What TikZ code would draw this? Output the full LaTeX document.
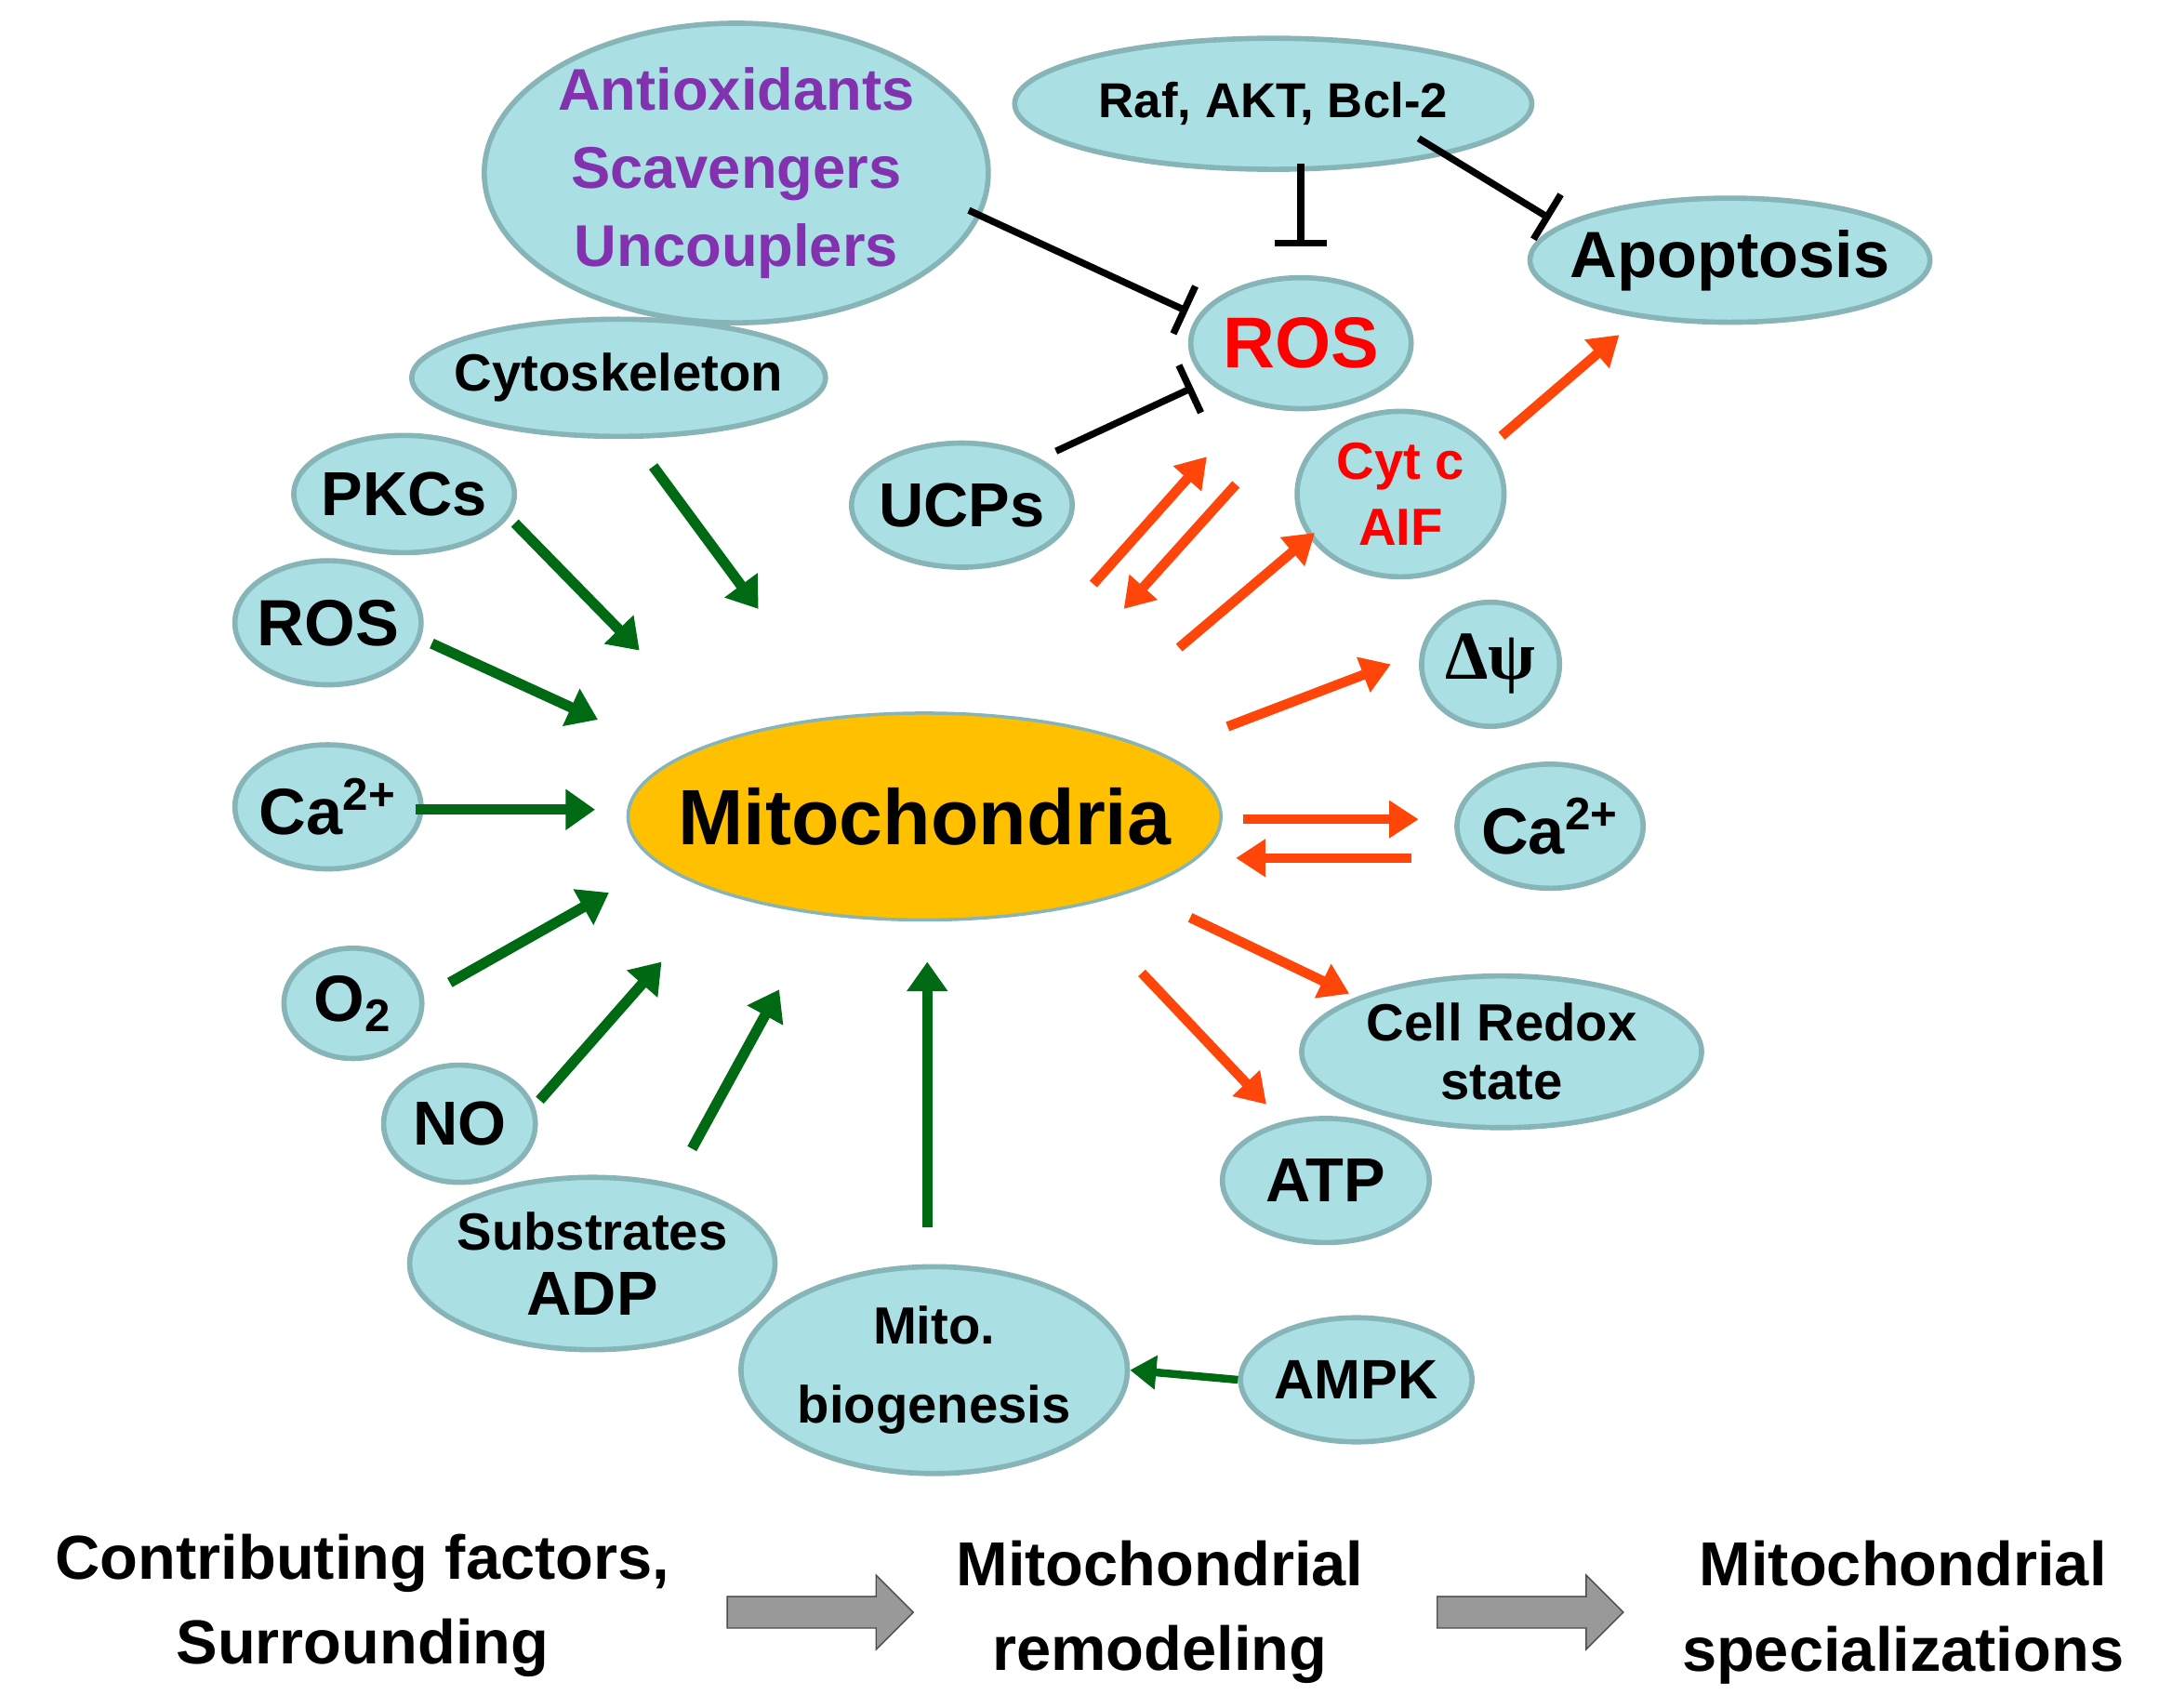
\documentclass[tikz,border=0pt]{standalone}
\usepackage{fontspec}
\setmainfont{Liberation Sans}
\newfontfamily\ser{Liberation Serif}
\usetikzlibrary{shapes.geometric,shapes.arrows,arrows.meta}
\definecolor{cy}{RGB}{170,224,228}
\definecolor{cyb}{RGB}{135,180,182}
\definecolor{org}{RGB}{255,192,0}
\definecolor{gr}{RGB}{0,105,20}
\definecolor{rd}{RGB}{255,70,10}
\definecolor{pu}{RGB}{130,50,175}
\tikzset{
 sz/.style 2 args={minimum width=#1*0.4218pt,minimum height=#2*0.4218pt},
 el/.style={ellipse,fill=cy,draw=cyb,line width=1.6pt,inner sep=0pt,align=center,font=\bfseries\fontsize{17}{18}\selectfont},
 ga/.style={draw=gr,line width=3.2pt,-{Triangle[length=9pt,width=12pt]}},
 ra/.style={draw=rd,line width=3pt,-{Triangle[length=9pt,width=11pt]}},
 inh/.style={draw=black,line width=2.1pt,-{Bar[width=16pt]}},
 blk/.style={single arrow,fill=gray!80,draw=gray!60!black,minimum height=2cm,minimum width=0.8cm,single arrow head extend=3pt,inner sep=2pt},
 bt/.style={align=center,font=\bfseries\fontsize{19}{26}\selectfont}
}
\begin{document}
\begin{tikzpicture}[x=0.01488cm,y=-0.01488cm]
\useasboundingbox (0,0) rectangle (1560,1234);
\node[el,sz={350}{210},text=pu,font=\bfseries\fontsize{18}{24}\selectfont] (anti) at (532,125) {Antioxidants\\Scavengers\\Uncouplers};
\node[el,sz={375}{95},font=\bfseries\fontsize{15}{16}\selectfont] (raf) at (920,75) {Raf, AKT, Bcl-2};
\node[el,sz={290}{90},inner xsep=-12pt,font=\bfseries\fontsize{20}{20}\selectfont] (apo) at (1250,188) {Apoptosis};
\node[el,sz={150}{95},text=red,font=\bfseries\fontsize{22}{22}\selectfont] (rost) at (940,248) {ROS};
\node[el,sz={300}{85},inner xsep=-12pt,font=\bfseries\fontsize{16}{16}\selectfont] (cyto) at (447,273) {Cytoskeleton};
\node[el,sz={160}{85},inner xsep=-6pt,font=\bfseries\fontsize{19}{19}\selectfont] (pkc) at (292,357) {PKCs};
\node[el,sz={160}{90},inner xsep=-6pt,font=\bfseries\fontsize{19}{19}\selectfont] (ucp) at (695,365) {UCPs};
\node[el,sz={150}{120},text=red,font=\bfseries\fontsize{16}{20}\selectfont] (cyt) at (1012,357) {Cyt c\\AIF};
\node[el,sz={135}{90},inner xsep=-4pt,font=\bfseries\fontsize{20}{20}\selectfont] (rosl) at (237,450) {ROS};
\node[el,sz={100}{90},font=\bfseries\ser\fontsize{21}{21}\selectfont] (dpsi) at (1077,480) {Δψ};
\node[el,sz={135}{90},inner xsep=-4pt,font=\bfseries\fontsize{20}{20}\selectfont] (cal) at (237,583) {Ca\textsuperscript{2+}};
\node[ellipse,fill=org,draw=cyb,line width=1pt,sz={430}{150},inner sep=0pt,inner xsep=-26pt,font=\bfseries\fontsize{24}{24}\selectfont] (mito) at (668,590) {Mitochondria};
\node[el,sz={135}{90},inner xsep=-4pt,font=\bfseries\fontsize{20}{20}\selectfont] (car) at (1120,597) {Ca\textsuperscript{2+}};
\node[el,sz={100}{80},font=\bfseries\fontsize{20}{20}\selectfont] (o2) at (255,725) {O$_\mathbf{2}$};
\node[el,sz={290}{110},inner xsep=-8pt,font=\bfseries\fontsize{16}{18}\selectfont] (redox) at (1085,760) {Cell Redox\\state};
\node[el,sz={110}{85},font=\bfseries\fontsize{19}{19}\selectfont] (no) at (332,812) {NO};
\node[el,sz={150}{90},font=\bfseries\fontsize{19}{19}\selectfont] (atp) at (958,853) {ATP};
\node[el,sz={265}{125},inner xsep=-8pt,font=\bfseries\fontsize{16}{20}\selectfont] (sub) at (428,913) {Substrates\\\fontsize{19}{20}\selectfont ADP};
\node[el,sz={275}{150},font=\bfseries\fontsize{16}{24}\selectfont] (bio) at (675,990) {Mito.\\biogenesis};
\node[el,sz={150}{90},font=\bfseries\fontsize{17}{17}\selectfont] (ampk) at (980,997) {AMPK};
% green
\draw[ga] (472,337) coordinate (g1a) -- (548,440) coordinate (g1b);
\draw[ga] (372,378) coordinate (g2a) -- (462,470) coordinate (g2b);
\draw[ga] (312,465) coordinate (g3a) -- (432,520) coordinate (g3b);
\draw[ga] (300,585) coordinate (g4a) -- (430,585) coordinate (g4b);
\draw[ga] (325,710) coordinate (g5a) -- (440,645) coordinate (g5b);
\draw[ga] (390,795) coordinate (g6a) -- (478,695) coordinate (g6b);
\draw[ga] (500,830) coordinate (g7a) -- (563,715) coordinate (g7b);
\draw[ga] (670,887) coordinate (g8a) -- (670,695) coordinate (g8b);
\draw[draw=gr,line width=2.4pt,-{Triangle[length=8pt,width=10pt]}] (ampk.west) -- (bio.east);
% red
\draw[ra] (790,422) coordinate (r1a) -- (872,330) coordinate (r1b);
\draw[ra] (893,350) coordinate (r2a) -- (812,440) coordinate (r2b);
\draw[ra] (852,468) coordinate (r3a) -- (950,385) coordinate (r3b);
\draw[ra] (1085,315) coordinate (r4a) -- (1170,242) coordinate (r4b);
\draw[ra] (887,525) coordinate (r5a) -- (1005,480) coordinate (r5b);
\draw[ra] (898,592) coordinate (r6a) -- (1025,592) coordinate (r6b);
\draw[ra] (1020,620) coordinate (r7a) -- (893,620) coordinate (r7b);
\draw[ra] (860,663) coordinate (r8a) -- (975,718) coordinate (r8b);
\draw[ra] (825,703) coordinate (r9a) -- (915,798) coordinate (r9b);
% inhibition
\draw[inh] (700,152) coordinate (i1a) -- (858,225) coordinate (i1b);
\draw[inh] (763,326) coordinate (i2a) -- (862,280) coordinate (i2b);
\draw[inh] (940,118) coordinate (i3a) -- (940,178) coordinate (i3b);
\draw[inh] (1025,100) coordinate (i4a) -- (1120,158) coordinate (i4b);
% bottom
\node[bt] (b1) at (262,1160) {Contributing factors,\\Surrounding};
\node[bt] (b2) at (838,1165) {Mitochondrial\\remodeling};
\node[bt] (b3) at (1375,1165) {Mitochondrial\\specializations};
\node[blk] (a1) at (587,1165) {};
\node[blk] (a2) at (1100,1165) {};
\end{tikzpicture}
\end{document}
